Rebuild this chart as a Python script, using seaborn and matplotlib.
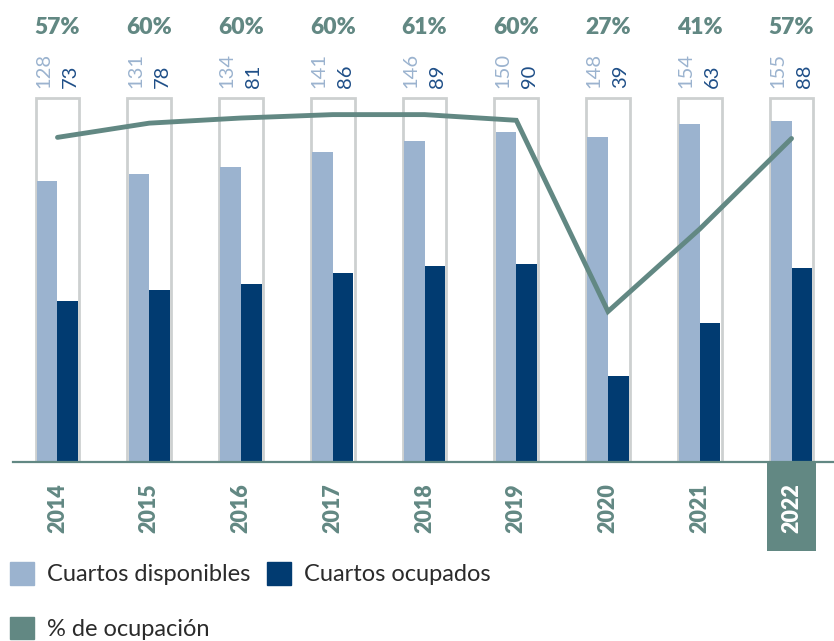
"""
Cuartos disponibles vs. ocupados y % de ocupación, 2014-2022.
"""

import matplotlib
matplotlib.use("Agg")
import matplotlib.pyplot as plt
import matplotlib.transforms as mtransforms
from matplotlib.patches import Rectangle, Patch
import numpy as np
import pandas as pd
import seaborn as sns

# datos
anios = ["2014", "2015", "2016", "2017", "2018", "2019", "2020", "2021", "2022"]
disponibles = [128, 131, 134, 141, 146, 150, 148, 154, 155]
ocupados = [73, 78, 81, 86, 89, 90, 39, 63, 88]
ocupacion = [57.0, 59.5, 60.4, 61.0, 61.0, 60.0, 26.4, 40.9, 56.8]
etiquetas_pct = ["57%", "60%", "60%", "60%", "61%", "60%", "27%", "41%", "57%"]

# estilo
GRIS_VERDE = "#628883"
AZUL_CLARO = "#9bb3cf"
AZUL_OSCURO = "#013b71"
AZUL_TEXTO = "#1f4f88"
GRIS_CAJA = "#cdd0d0"
TEXTO = "#2b2b2b"

W, H = 834, 641
BASE_PX = 461.7          # baseline, px from top
PX_UNIDAD = 2.196        # px per room
PX_PCT = 5.69            # px per % point
CAJA_ALTO = 165.8        # frame height in room units

sns.set_theme(style="white")
plt.rcParams["font.family"] = ["Lato", "DejaVu Sans"]

df = pd.DataFrame({
    "anio": anios * 2,
    "cuartos": disponibles + ocupados,
    "serie": ["Cuartos disponibles"] * len(anios) + ["Cuartos ocupados"] * len(anios),
})

fig = plt.figure(figsize=(W / 100, H / 100), dpi=100)
ax = fig.add_axes([13 / W, (H - BASE_PX) / H, (W - 13) / W, BASE_PX / H])

sns.barplot(data=df, x="anio", y="cuartos", hue="serie",
            palette=[AZUL_CLARO, AZUL_OSCURO], width=0.45, gap=0,
            saturation=1, linewidth=0, errorbar=None, legend=False, ax=ax)

x = np.arange(len(anios))

# marcos grises detrás de cada par de barras
ax.bar(x, [CAJA_ALTO] * len(anios), width=0.475, facecolor="white",
       edgecolor=GRIS_CAJA, linewidth=2, zorder=0.5)

ax.set_xlim(-0.485, 8.463)
ax.set_ylim(0, BASE_PX / PX_UNIDAD)
ax.set_xticks([])
ax.set_yticks([])
ax.set_xlabel("")
ax.set_ylabel("")
for s in ["top", "right", "left"]:
    ax.spines[s].set_visible(False)
ax.spines["bottom"].set_color(GRIS_VERDE)
ax.spines["bottom"].set_linewidth(1.6)
ax.spines["bottom"].set_zorder(3)

# línea de % de ocupación
ax2 = ax.twinx()
sns.lineplot(x=x, y=ocupacion, ax=ax2, color=GRIS_VERDE, linewidth=3.5,
             solid_capstyle="round", solid_joinstyle="miter")
ax2.set_ylim(0, BASE_PX / PX_PCT)
ax2.set_yticks([])
ax2.set_ylabel("")
for s in ax2.spines.values():
    s.set_visible(False)

# etiquetas
y_pct = (BASE_PX - 27) / PX_UNIDAD
y_val = (BASE_PX - 88) / PX_UNIDAD
for i in range(len(anios)):
    ax.text(i, y_pct, etiquetas_pct[i], ha="center", va="center",
            fontsize=16.5, fontweight="heavy", color=GRIS_VERDE)
    ax.text(i - 0.15, y_val, str(disponibles[i]), rotation=90,
            ha="center", va="bottom", fontsize=14.5, color=AZUL_CLARO)
    ax.text(i + 0.14, y_val, str(ocupados[i]), rotation=90,
            ha="center", va="bottom", fontsize=14.5, color=AZUL_TEXTO)

# años bajo el eje; el último va resaltado
ultimo = len(anios) - 1
trans = mtransforms.blended_transform_factory(ax.transData, ax.transAxes)
ax.add_patch(Rectangle((ultimo - 0.267, -89 / BASE_PX), 0.534, 88 / BASE_PX,
                       transform=trans, facecolor=GRIS_VERDE, edgecolor="none",
                       clip_on=False, zorder=1))
for i, anio in enumerate(anios):
    ax.annotate(anio, xy=(i, 0), xycoords=("data", "axes fraction"),
                xytext=(0, -15.5), textcoords="offset points",
                rotation=90, ha="center", va="top", fontsize=15.5,
                fontweight="heavy",
                color="white" if i == ultimo else GRIS_VERDE, zorder=4)

# leyenda
handles = [Patch(color=AZUL_CLARO, label="Cuartos disponibles"),
           Patch(color=GRIS_VERDE, label="% de ocupación"),
           Patch(color=AZUL_OSCURO, label="Cuartos ocupados")]
fig.legend(handles=handles, ncol=2, loc="upper left",
           bbox_to_anchor=(10 / W, 1 - 562 / H), frameon=False,
           fontsize=17, labelcolor=TEXTO, handlelength=1.0,
           handleheight=1.1, handletextpad=0.55, columnspacing=0.72,
           labelspacing=1.32, borderpad=0, borderaxespad=0)

fig.savefig("out.png", dpi=100)
